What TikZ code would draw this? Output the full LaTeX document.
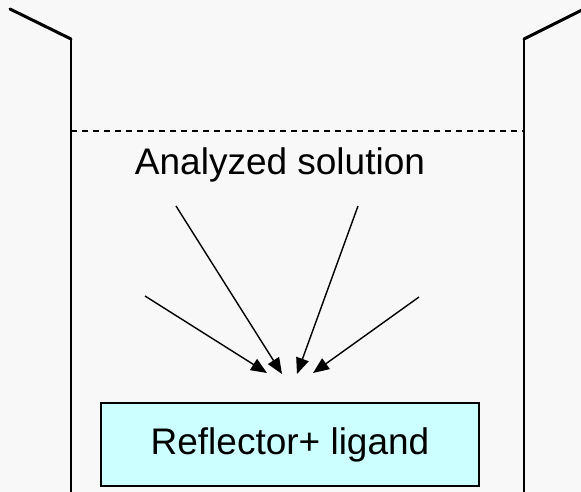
\documentclass[tikz,border=0pt]{standalone}
\usepackage{fontspec}
\setmainfont{Liberation Sans}
\usetikzlibrary{arrows.meta}
\definecolor{bgpanel}{RGB}{248,248,248}
\definecolor{plate}{RGB}{204,255,255}
\begin{document}
\begin{tikzpicture}[x=1pt,y=-1pt,
  rim/.style={line width=3pt,line cap=round},
  wall/.style={line width=2.3pt},
  ray/.style={line width=1.4pt,-{Triangle[length=16pt,width=13pt]}},
  label/.style={font=\fontsize{37}{44}\selectfont,inner sep=0pt},
  platebox/.style={draw,line width=1.5pt,fill=plate,minimum width=378pt,minimum height=83pt,inner sep=0pt,font=\fontsize{37}{44}\selectfont}]
  % canvas
  \fill[bgpanel] (0,0) rectangle (581,492);
  \useasboundingbox (0,0) rectangle (581,492);
  % beaker walls: slanted rims and upright sides
  \coordinate (lt) at (10,9);
  \coordinate (lc) at (71,39);
  \coordinate (lb) at (71,495);
  \coordinate (rt) at (582,10);
  \coordinate (rc) at (524,39);
  \coordinate (rb) at (524,495);
  \draw[rim] (lt) -- (lc);
  \draw[wall] (lc) -- (lb);
  \draw[rim] (rt) -- (rc);
  \draw[wall] (rc) -- (rb);
  % liquid surface
  \coordinate (sl) at (71,131);
  \coordinate (sr) at (524,131);
  \draw[line width=1.3pt,dash pattern=on 6pt off 5pt] (sl) -- (sr);
  % labels
  \node[label,anchor=base] (sol) at (280,175) {Analyzed solution};
  \node[platebox] (plt) at (290,444.5) {Reflector+ ligand};
  % rays towards the plate
  \coordinate (a1s) at (145,296);
  \coordinate (a1e) at (267,373);
  \coordinate (a2s) at (176,206);
  \coordinate (a2e) at (282,374);
  \coordinate (a3s) at (358,206);
  \coordinate (a3e) at (297,374);
  \coordinate (a4s) at (419,297);
  \coordinate (a4e) at (313,373);
  \draw[ray] (a1s) -- (a1e);
  \draw[ray] (a2s) -- (a2e);
  \draw[ray] (a3s) -- (a3e);
  \draw[ray] (a4s) -- (a4e);
\end{tikzpicture}
\end{document}
